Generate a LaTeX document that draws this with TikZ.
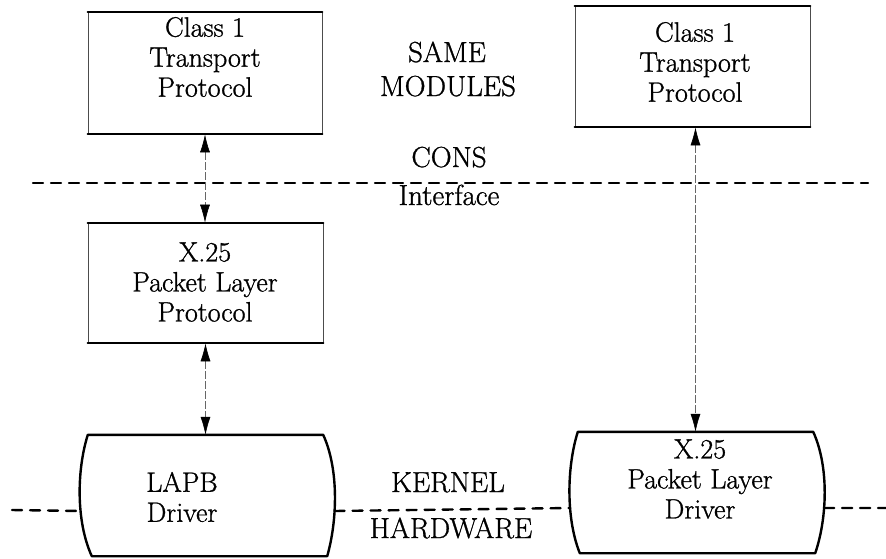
\documentclass[tikz,border=0pt]{standalone}
\usepackage{fontspec}
\setmainfont{Latin Modern Roman}[FakeBold=1]
\usetikzlibrary{arrows.meta,calc}

% drum-shaped driver outline around a named (invisible) node:
% #1 node name, #2 horizontal offset of the bottom corners
\newcommand{\drawdrum}[2]{%
  \draw[drum] (#1.north west) -- (#1.north east)
    .. controls ($(#1.north east)+(16,35)$) and ($(#1.south east)+(14,-35)$) ..
       coordinate[pos=0.62] (#1-r) ($(#1.south east)+(#2,0)$)
    -- ($(#1.south west)+(#2,0)$)
    .. controls ($(#1.south west)+(-12,-35)$) and ($(#1.north west)+(-11,35)$) ..
       coordinate[pos=0.38] (#1-l) (#1.north west) -- cycle;}

\begin{document}
\begin{tikzpicture}[x=1pt,y=-1pt,
  txt/.style={font=\fontsize{28}{30}\selectfont, align=center, inner sep=0pt},
  lbl/.style={font=\fontsize{29}{31}\selectfont, inner sep=0pt, anchor=base},
  modbox/.style={draw=black!70, line width=0.7pt, inner sep=0pt,
                 minimum width=235pt, minimum height=121pt},
  drvbox/.style={inner sep=0pt, minimum width=235pt, minimum height=121pt},
  rim/.style={line width=2.2pt, line cap=round},
  drum/.style={line width=2.4pt, line join=round},
  layer/.style={line width=2.4pt, dash pattern=on 10pt off 8pt, line cap=round},
  conn/.style={draw=black!60, line width=0.6pt, dash pattern=on 8pt off 2pt,
               {Latex[length=18pt,width=10pt,black]}-{Latex[length=18pt,width=10pt,black]}}
]
\useasboundingbox (0,0) rectangle (886,558);
\fill[white] (0,0) rectangle (886,558);

% protocol modules
\node[modbox, minimum width=234pt, minimum height=122pt] (tpl) at (205,73) {};
\node[modbox] (tpr) at (692.5,66.5) {};
\node[modbox, minimum height=120pt] (pkl) at (205.5,283) {};
\foreach \b in {tpl,tpr,pkl} {
  \draw[rim] (\b.north west) -- (\b.north east);
  \draw[rim] (\b.south west) -- (\b.south east);
}

% kernel drivers
\node[drvbox] (lapb) at (205.5,495.5) {};
\node[drvbox] (x25d) at (695.5,492.5) {};
\drawdrum{lapb}{4}
\drawdrum{x25d}{2}

% layer boundaries
\coordinate (c0) at (33,183);
\coordinate (c1) at (868,183);
\draw[layer] (c0) -- (c1);
\coordinate (k0) at (12,510);
\coordinate (k1) at (886,508);
\draw[layer] (k0) -- (lapb-l);
\draw[layer] (lapb-r) -- (x25d-l);
\draw[layer] (x25d-r) -- (k1);

% interactions
\draw[conn] (tpl.south) -- (tpl.south |- pkl.north);
\draw[conn] (pkl.south) -- (pkl.south |- lapb.north);
\draw[conn] (tpr.south -| x25d.north) -- (x25d.north);

% module texts
\node[txt] (tpl-t) at (205,57) {Class 1\\Transport\\Protocol};
\node[txt] (tpr-t) at (695,62) {Class 1\\Transport\\Protocol};
\node[txt] (pkl-t) at (205,282) {X.25\\Packet Layer\\Protocol};
\node[txt] (lapb-t) at (182,497) {LAPB\\Driver};
\node[txt] (x25d-t) at (700,479) {X.25\\Packet Layer\\Driver};

% layer labels
\node[lbl] (same) at (447,62) {SAME};
\node[lbl] (mods) at (448,96) {MODULES};
\node[lbl] (cons) at (449,167) {CONS};
\node[lbl] (intf) at (449,205) {Interface};
\node[lbl] (kern) at (448,492) {KERNEL};
\node[lbl] (hw) at (451,538) {HARDWARE};
\end{tikzpicture}
\end{document}
